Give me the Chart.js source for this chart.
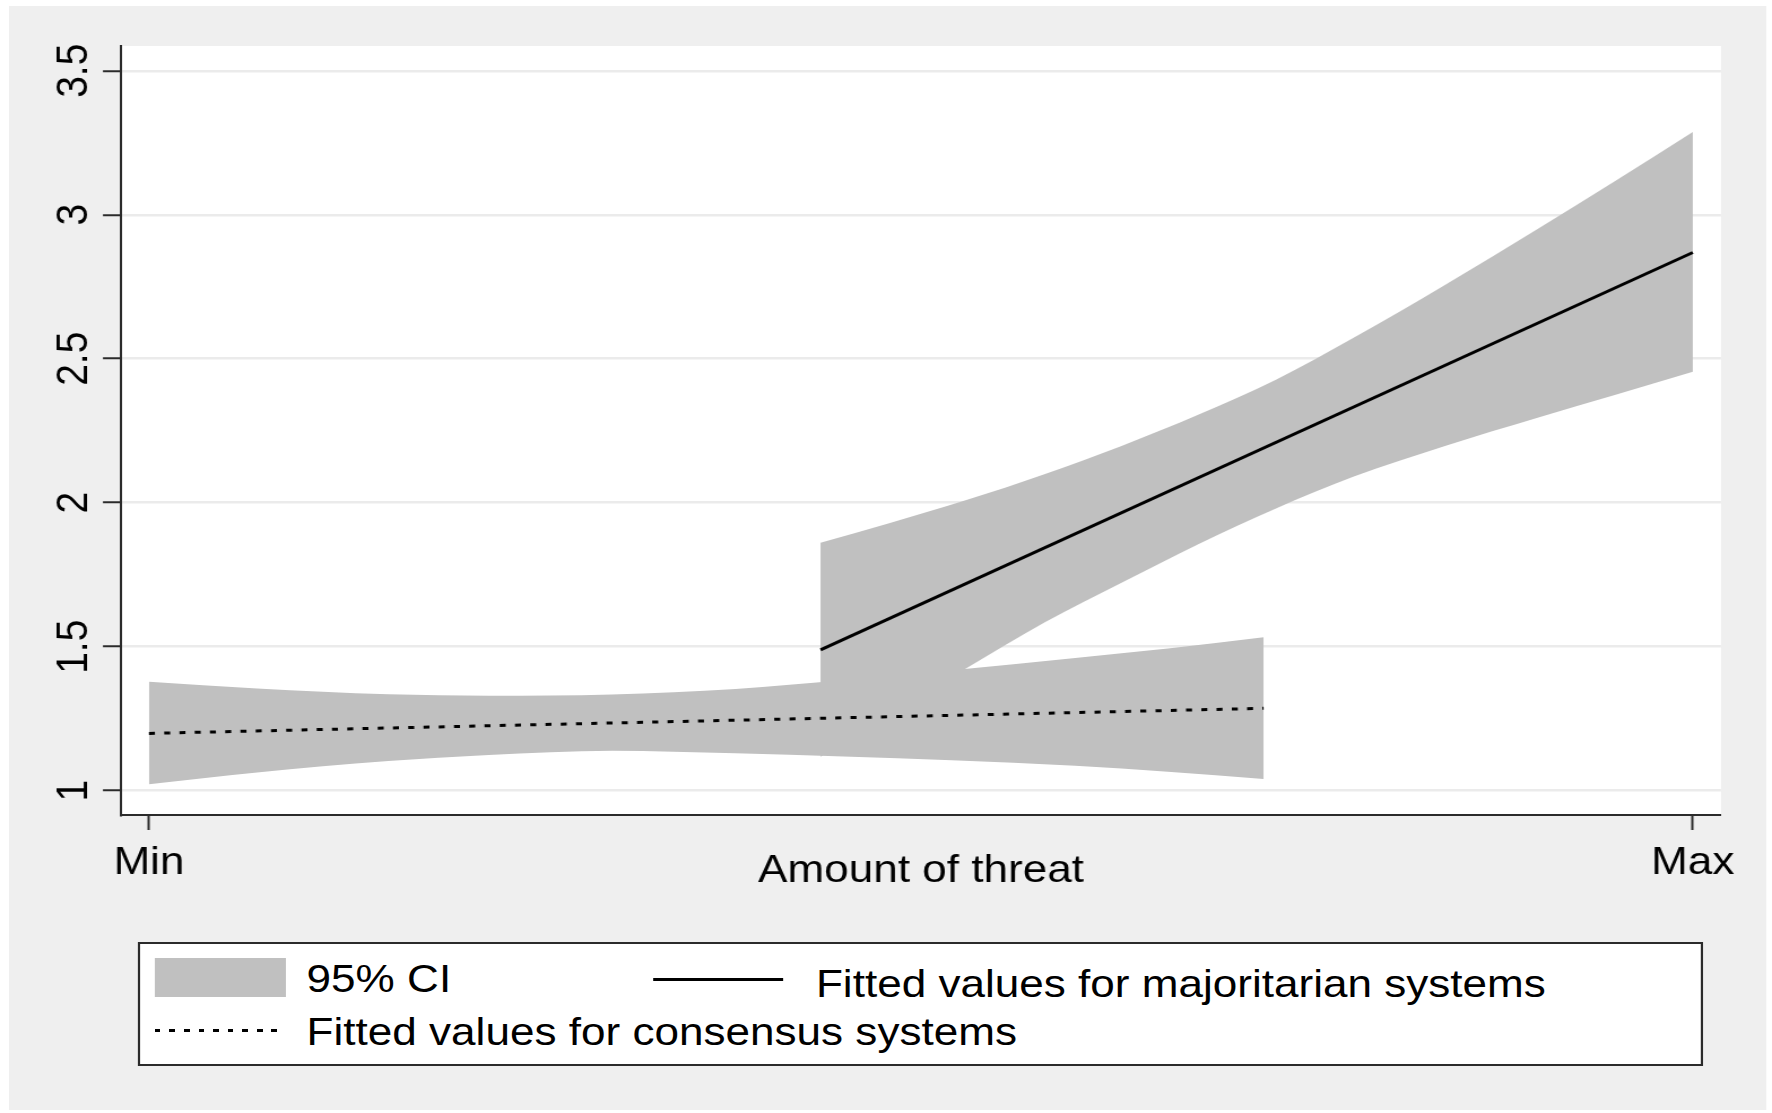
<!DOCTYPE html>
<html>
<head>
<meta charset="utf-8">
<title>Amount of threat</title>
<script src="https://cdn.jsdelivr.net/npm/chart.js@4.4.1/dist/chart.umd.min.js"></script>
<style>
  html, body { margin: 0; padding: 0; background: #ffffff; width: 1772px; height: 1113px; overflow: hidden; }
  /* the graph is laid out on a 1568px-wide sheet and stretched to the page width */
  #stage { position: absolute; left: 0; top: 0; width: 1568px; height: 1113px;
           transform: scaleX(1.130102); transform-origin: 0 0;
           font-family: "Liberation Sans", Arial, sans-serif; }
  #panel { position: absolute; left: 8px; top: 6px; width: 1555px; height: 1104px; background: #efefef; }
  #wrap  { position: absolute; left: 0; top: 0; width: 1568px; height: 1113px; }
  #legendBox { position: absolute; left: 121.7px; top: 942.3px; width: 1385.8px; height: 123.4px;
               box-sizing: border-box; border: 2px solid #2b2b2b; background: #ffffff; }
  .lg { position: absolute; font-size: 39px; line-height: 39px; color: #000; white-space: nowrap; }
  .swatch { position: absolute; left: 137.2px; top: 957.5px; width: 115.9px; height: 39.2px; background: #c0c0c0; }
  .solidKey { position: absolute; left: 578.4px; top: 977.5px; width: 115.1px; height: 3px; background: #000; }
  .dotKey { position: absolute; left: 137.2px; top: 1029.2px; width: 115.9px; height: 3px;
            background: repeating-linear-gradient(to right, #000 0 5px, transparent 5px 12.9px); }
</style>
</head>
<body>
<div id="stage">
  <div id="panel"></div>
  <div id="wrap"><canvas id="chart"></canvas></div>
  <div id="legendBox"></div>
  <div class="swatch"></div>
  <div class="lg" id="lgCI" style="left:271.3px; top:959.3px;"></div>
  <div class="solidKey"></div>
  <div class="lg" id="lgMaj" style="left:722px; top:963.7px;"></div>
  <div class="dotKey"></div>
  <div class="lg" id="lgCons" style="left:271.3px; top:1012px;"></div>
</div>
<script>
// Axis ticks
const xTickValues = [0, 100];
const xTickLabels = ['Min', 'Max'];
const yTickValues = [1, 1.5, 2, 2.5, 3, 3.5];
const yTickLabels = ['1', '1.5', '2', '2.5', '3', '3.5'];
const xTitle = 'Amount of threat';

// Legend entries
const legendLabels = ['95% CI', 'Fitted values for majoritarian systems', 'Fitted values for consensus systems'];

// Consensus systems: fitted line and 95% CI band
const consensusFitX = [0, 72.2];
const consensusFit  = [1.199, 1.286];
const consensusX  = [0, 7, 15.5, 22, 30, 38, 45, 52, 60, 66, 72.2];
const consensusLo = [1.022, 1.063, 1.103, 1.124, 1.139, 1.130, 1.119, 1.106, 1.087, 1.066, 1.041];
const consensusHi = [1.378, 1.355, 1.335, 1.330, 1.334, 1.353, 1.384, 1.418, 1.461, 1.494, 1.533];

// Majoritarian systems: fitted line and 95% CI band
const majorFitX = [43.5, 100];
const majorFit  = [1.489, 2.869];
const majorX  = [43.5, 48, 53, 58, 63, 68, 73, 78, 84, 90, 95, 100];
const majorLo = [1.118, 1.267, 1.427, 1.584, 1.722, 1.857, 1.980, 2.090, 2.198, 2.296, 2.375, 2.455];
const majorHi = [1.861, 1.930, 2.010, 2.099, 2.197, 2.306, 2.427, 2.572, 2.758, 2.952, 3.118, 3.287];

const pts = (xs, ys) => xs.map((x, i) => ({ x: x, y: ys[i] }));

document.getElementById('lgCI').textContent = legendLabels[0];
document.getElementById('lgMaj').textContent = legendLabels[1];
document.getElementById('lgCons').textContent = legendLabels[2];

const FONT = 'Liberation Sans';
const BAND = '#c0c0c0';
const INK = '#2b2b2b';

// white plot region
const plotBackground = {
  id: 'plotBackground',
  beforeDraw(chart) {
    const { ctx, chartArea: a } = chart;
    ctx.save();
    ctx.fillStyle = '#ffffff';
    ctx.fillRect(a.left, a.top, a.right - a.left, a.bottom - a.top);
    ctx.restore();
  }
};

// vertical y tick labels, reading bottom to top
const yTickText = {
  id: 'yTickText',
  afterDraw(chart) {
    const { ctx } = chart;
    const ys = chart.scales.y;
    ctx.save();
    ctx.font = '39px "' + FONT + '"';
    ctx.fillStyle = '#000';
    ctx.textAlign = 'center';
    ctx.textBaseline = 'alphabetic';
    yTickValues.forEach((v, i) => {
      const py = ys.getPixelForValue(v);
      ctx.save();
      ctx.translate(77, py);
      ctx.rotate(-Math.PI / 2);
      ctx.fillText(yTickLabels[i], 0, 0);
      ctx.restore();
    });
    ctx.restore();
  }
};

const bandStyle = { borderWidth: 0, pointRadius: 0, cubicInterpolationMode: 'monotone', order: 2 };

new Chart(document.getElementById('chart'), {
  type: 'line',
  data: {
    datasets: [
      Object.assign({ label: 'consensus lower', data: pts(consensusX, consensusLo), fill: false }, bandStyle),
      Object.assign({ label: '95% CI', data: pts(consensusX, consensusHi), fill: '-1', backgroundColor: BAND }, bandStyle),
      Object.assign({ label: 'majoritarian lower', data: pts(majorX, majorLo), fill: false }, bandStyle),
      Object.assign({ label: '95% CI', data: pts(majorX, majorHi), fill: '-1', backgroundColor: BAND }, bandStyle),
      { label: legendLabels[2], data: pts(consensusFitX, consensusFit), borderColor: '#000', borderWidth: 3,
        borderDash: [5.3, 8.2], borderCapStyle: 'butt', pointRadius: 0, fill: false, order: 0 },
      { label: legendLabels[1], data: pts(majorFitX, majorFit), borderColor: '#000', borderWidth: 3,
        pointRadius: 0, fill: false, order: 0 }
    ]
  },
  options: {
    responsive: true,
    maintainAspectRatio: false,
    animation: false,
    events: [],
    layout: { padding: { left: 0, top: 46, right: 45.1, bottom: 198 } },
    plugins: { legend: { display: false }, tooltip: { enabled: false } },
    scales: {
      x: {
        type: 'linear',
        min: -1.808,
        max: 101.83,
        afterBuildTicks: s => { s.ticks = xTickValues.map(v => ({ value: v })); },
        afterFit: s => { s.height = 100; },
        ticks: {
          callback: (v, i) => xTickLabels[i],
          font: { family: FONT, size: 39 },
          color: '#000',
          padding: 10,
          maxRotation: 0,
          minRotation: 0,
          autoSkip: false
        },
        grid: { drawOnChartArea: false, drawTicks: true, tickLength: 15, tickColor: INK, tickWidth: 2 },
        border: { display: true, color: INK, width: 2 },
        title: { display: true, text: xTitle, color: '#000', font: { family: FONT, size: 39 },
                 padding: { top: 0, bottom: 20.5 } }
      },
      y: {
        type: 'linear',
        min: 0.9156,
        max: 3.586,
        afterBuildTicks: s => { s.ticks = yTickValues.map(v => ({ value: v })); },
        afterFit: s => { s.width = 107.1; },
        ticks: { display: false },
        grid: { color: '#ebebeb', lineWidth: 2.5, drawTicks: true, tickLength: 16, tickColor: INK, tickWidth: 2 },
        border: { display: true, color: INK, width: 2 }
      }
    }
  },
  plugins: [plotBackground, yTickText]
});
</script>
</body>
</html>
